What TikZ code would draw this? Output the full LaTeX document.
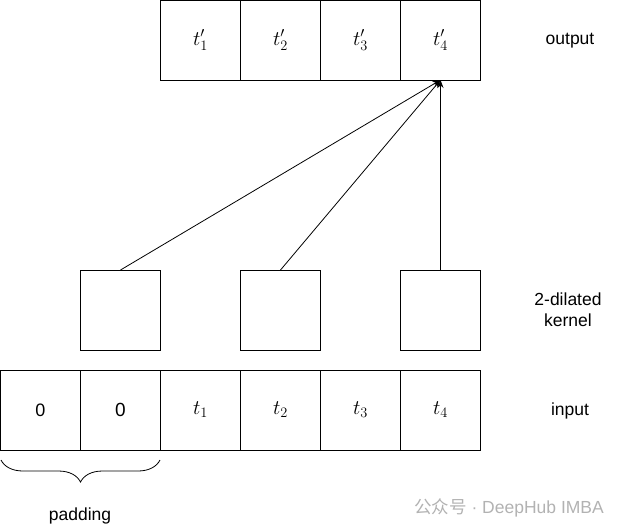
\documentclass[tikz,border=0pt]{standalone}
\usepackage{fontspec}
\setmainfont{Liberation Sans}
\newfontfamily\cjk{Noto Sans CJK SC}
\usetikzlibrary{arrows.meta,positioning,decorations.pathreplacing}
\tikzset{
  cell/.style  = {draw, line width=0.8pt, minimum size=80pt, inner sep=0pt,
                  outer sep=0pt, font=\fontsize{18}{20}\selectfont},
  tcell/.style = {cell, font=\fontsize{20.74}{22}\selectfont},
  kbox/.style  = {cell},
  lbl/.style   = {align=center, font=\fontsize{17.5}{21}\selectfont},
  ar/.style    = {-{Stealth[length=8pt,width=6pt]}, line width=0.8pt},
  brc/.style   = {decorate, decoration={brace, mirror, amplitude=22pt}, line width=0.8pt},
  wm/.style    = {text=black!30, font=\fontsize{17.5}{20}\selectfont}
}

\begin{document}
\begin{tikzpicture}[x=1pt, y=-1pt, node distance=0pt]
  \useasboundingbox (0,0) rectangle (626,531);
  % input row
  \node[cell] (in0) at (40.5,410) {0};
  \node[cell, right=of in0, font=\fontsize{19}{21}\selectfont] (in1) {0};
  \node[tcell, right=of in1] (in2) {$t_1$};
  \node[tcell, right=of in2] (in3) {$t_2$};
  \node[tcell, right=of in3] (in4) {$t_3$};
  \node[tcell, right=of in4] (in5) {$t_4$};
  % kernel
  \node[kbox, above=20pt of in1] (k1) {};
  \node[kbox, above=20pt of in3] (k2) {};
  \node[kbox, above=20pt of in5] (k3) {};
  % output row
  \node[tcell, above=290pt of in2] (out1) {$t'_1$};
  \node[tcell, right=of out1] (out2) {$t'_2$};
  \node[tcell, right=of out2] (out3) {$t'_3$};
  \node[tcell, right=of out3] (out4) {$t'_4$};
  \draw[ar] (k1.north) -- (out4.south);
  \draw[ar] (k2.north) -- (out4.south);
  \draw[ar] (k3.north) -- (out4.south);
  % labels
  \node[lbl] (outlbl) at (570,41) {output};
  \node[lbl] (klbl)   at (568,310) {2-dilated\\kernel};
  \node[lbl] (inlbl)  at (570,411) {input};
  \coordinate (padl) at (1,460);
  \coordinate (padr) at (160,460);
  \draw[brc] (padl) -- (padr);
  \node[lbl] (padlbl) at (80,516) {padding};
  \node[wm] (wmark) at (509,508) {{\cjk 公众号} · DeepHub IMBA};
\end{tikzpicture}
\end{document}
